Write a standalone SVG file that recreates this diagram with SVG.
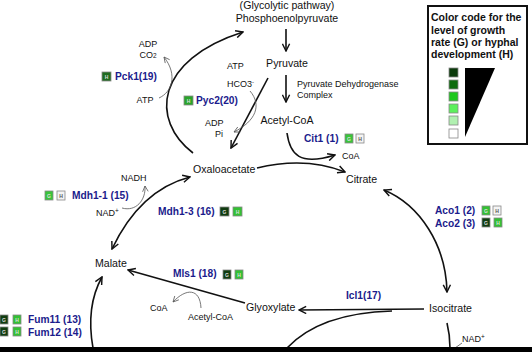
<svg xmlns="http://www.w3.org/2000/svg" width="532" height="352" viewBox="0 0 532 352">
<style>
text{font-family:"Liberation Sans",Arial,sans-serif;fill:#111}
.m{font-size:10.6px}
.s{font-size:9px}
.e{font-size:10.2px;font-weight:bold;fill:#1b1b8c}
.lg{font-size:10.5px;font-weight:bold}
.c{fill:none;stroke:#111;stroke-width:1.6}
.t{fill:none;stroke:#555;stroke-width:0.8}
.sq{stroke:#888;stroke-width:0.8}
.k{font-size:5px;fill:#ddd;font-weight:bold}
.kw{font-size:5px;fill:#555;font-weight:bold}
</style>
<defs>
<marker id="a" viewBox="0 0 10 10" refX="9" refY="5" markerWidth="9" markerHeight="9" markerUnits="userSpaceOnUse" orient="auto-start-reverse"><path d="M1,1 L9,5 L1,9" fill="none" stroke="#111" stroke-width="1.6"/></marker>
<marker id="b" viewBox="0 0 10 10" refX="9" refY="5" markerWidth="7" markerHeight="7" markerUnits="userSpaceOnUse" orient="auto-start-reverse"><path d="M1,1 L9,5 L1,9" fill="none" stroke="#555" stroke-width="1.1"/></marker>
</defs>
<rect width="532" height="352" fill="#fff"/>

<g id="connectors">
<path class="c" d="M286 29 L286 51" marker-end="url(#a)"/>
<path class="c" d="M286 75 L286 102" marker-end="url(#a)"/>
<path class="c" d="M268 78 L231 148" marker-end="url(#a)"/>
<path class="t" d="M250 91 C262 105 256 121 234 132" marker-end="url(#b)"/>
<path class="c" d="M193 153 C150 120 155 60 243 32" marker-end="url(#a)"/>
<path class="t" d="M159 98 C172 92 178 75 164 57" marker-end="url(#b)"/>
<path class="c" d="M257 168 C290 160 320 162 345 172" marker-end="url(#a)"/>
<path class="c" d="M287 133 C290 155 300 166 335 155" marker-end="url(#a)"/>
<path class="c" d="M112 249 Q140 190 190 177" marker-start="url(#a)" marker-end="url(#a)"/>
<path class="t" d="M122 208 C136 212 146 200 145 186" marker-end="url(#b)"/>
<path class="c" d="M384 190 C420 205 446 245 447 292" marker-start="url(#a)" marker-end="url(#a)"/>
<path class="c" d="M424 309 L299 310" marker-end="url(#a)"/>
<path class="c" d="M245 303 L128 270" marker-end="url(#a)"/>
<path class="t" d="M201 308 C200 288 186 288 173 302" marker-end="url(#b)"/>
<path class="c" d="M93 348 C88 320 92 295 102 277" marker-end="url(#a)"/>
<path class="c" d="M287 348 Q320 313 392 311"/>
<path class="c" d="M447 323 Q450 335 450 348"/>
<path class="t" d="M455 348 L462 343"/>
</g>

<g id="glycolytic"><text class="m" x="287" y="9" text-anchor="middle">(Glycolytic pathway)</text></g>
<g id="pep"><text class="m" x="287" y="22" text-anchor="middle">Phosphoenolpyruvate</text></g>
<g id="pyruvate"><text class="m" x="287" y="67" text-anchor="middle">Pyruvate</text></g>
<g id="pdc"><text class="s" x="297" y="87">Pyruvate Dehydrogenase</text><text class="s" x="297" y="98">Complex</text></g>
<g id="acetylcoa"><text class="m" x="287" y="124" text-anchor="middle">Acetyl-CoA</text></g>
<g id="oxaloacetate"><text class="m" x="193" y="173">Oxaloacetate</text></g>
<g id="citrate"><text class="m" x="346" y="183">Citrate</text></g>
<g id="isocitrate"><text class="m" x="429" y="312">Isocitrate</text></g>
<g id="glyoxylate"><text class="m" x="246" y="311">Glyoxylate</text></g>
<g id="malate"><text class="m" x="95" y="267">Malate</text></g>

<g id="cofactors">
<text class="s" x="148" y="47" text-anchor="middle">ADP</text>
<text class="s" x="148" y="58" text-anchor="middle">CO<tspan font-size="6.5">2</tspan></text>
<text class="s" x="145" y="103" text-anchor="middle">ATP</text>
<text class="s" x="227" y="69">ATP</text>
<text class="s" x="227" y="87">HCO3<tspan font-size="6" dy="-3">-</tspan></text>
<text class="s" x="205" y="126">ADP</text>
<text class="s" x="215" y="137">Pi</text>
<text class="s" x="342" y="159">CoA</text>
<text class="s" x="121" y="181">NADH</text>
<text class="s" x="96" y="216">NAD<tspan font-size="6.5" dy="-3">+</tspan></text>
<text class="s" x="150" y="311">CoA</text>
<text class="s" x="188" y="320">Acetyl-CoA</text>
<text class="s" x="462" y="342">NAD<tspan font-size="6.5" dy="-3">+</tspan></text>
</g>

<g id="pck1"><rect class="sq" x="102" y="72" width="9" height="9" fill="#1f6b1f"/><text class="k" x="106.5" y="78.5" text-anchor="middle">H</text><text class="e" x="115" y="80">Pck1(19)</text></g>
<g id="pyc2"><rect class="sq" x="184" y="96" width="9" height="9" fill="#2aa52a"/><text class="k" x="188.5" y="102.5" text-anchor="middle">H</text><text class="e" x="196" y="104">Pyc2(20)</text></g>
<g id="cit1"><text class="e" x="304" y="142">Cit1 (1)</text><rect class="sq" x="345" y="134" width="8" height="9" fill="#3ac43a"/><text class="k" x="349" y="140.5" text-anchor="middle">G</text><rect class="sq" x="356" y="134" width="8" height="9" fill="#f4f4f4"/><text class="kw" x="360" y="140.5" text-anchor="middle">H</text></g>
<g id="mdh11"><rect class="sq" x="45" y="191" width="8" height="9" fill="#3ac43a"/><text class="k" x="49" y="197.5" text-anchor="middle">G</text><rect class="sq" x="57" y="191" width="8" height="9" fill="#f4f4f4"/><text class="kw" x="61" y="197.5" text-anchor="middle">H</text><text class="e" x="72" y="199">Mdh1-1 (15)</text></g>
<g id="mdh13"><text class="e" x="158" y="215">Mdh1-3 (16)</text><rect class="sq" x="220" y="207" width="9" height="9" fill="#103c10"/><text class="k" x="224.5" y="213.5" text-anchor="middle">G</text><rect class="sq" x="233" y="207" width="9" height="9" fill="#33c133"/><text class="k" x="237.5" y="213.5" text-anchor="middle">H</text></g>
<g id="aco"><text class="e" x="435" y="214">Aco1 (2)</text><rect class="sq" x="482" y="206" width="8" height="9" fill="#33c133"/><text class="k" x="486" y="212.5" text-anchor="middle">G</text><rect class="sq" x="493" y="206" width="8" height="9" fill="#f4f4f4"/><text class="kw" x="497" y="212.5" text-anchor="middle">H</text>
<text class="e" x="435" y="227">Aco2 (3)</text><rect class="sq" x="482" y="218" width="8" height="9" fill="#103c10"/><text class="k" x="486" y="224.5" text-anchor="middle">G</text><rect class="sq" x="494" y="218" width="8" height="9" fill="#33c133"/><text class="k" x="498" y="224.5" text-anchor="middle">H</text></g>
<g id="mls1"><text class="e" x="173" y="277">Mls1 (18)</text><rect class="sq" x="223" y="270" width="8" height="9" fill="#103c10"/><text class="k" x="227" y="276.5" text-anchor="middle">G</text><rect class="sq" x="235" y="270" width="8" height="9" fill="#33c133"/><text class="k" x="239" y="276.5" text-anchor="middle">H</text></g>
<g id="icl1"><text class="e" x="346" y="299">Icl1(17)</text></g>
<g id="fum"><rect class="sq" x="0" y="315" width="8" height="9" fill="#103c10"/><text class="k" x="4" y="321.5" text-anchor="middle">G</text><rect class="sq" x="13" y="315" width="8" height="9" fill="#33c133"/><text class="k" x="17" y="321.5" text-anchor="middle">H</text><text class="e" x="28" y="323">Fum11 (13)</text>
<rect class="sq" x="0" y="327" width="8" height="9" fill="#103c10"/><text class="k" x="4" y="333.5" text-anchor="middle">G</text><rect class="sq" x="13" y="327" width="8" height="9" fill="#33c133"/><text class="k" x="17" y="333.5" text-anchor="middle">H</text><text class="e" x="28" y="336">Fum12 (14)</text></g>

<g id="legend">
<rect x="428" y="6" width="99" height="138" fill="#fff" stroke="#111" stroke-width="2"/>
<text class="lg" x="431" y="21">Color code for the</text>
<text class="lg" x="431" y="34">level of growth</text>
<text class="lg" x="431" y="46">rate (G) or hyphal</text>
<text class="lg" x="431" y="58">development (H)</text>
<rect class="sq" x="449" y="68" width="9" height="9" fill="#0b3a0b"/>
<rect class="sq" x="449" y="80" width="9" height="9" fill="#0d6b0d"/>
<rect class="sq" x="449" y="92" width="9" height="9" fill="#1ec81e"/>
<rect class="sq" x="449" y="104" width="9" height="9" fill="#5cf05c"/>
<rect class="sq" x="449" y="116" width="9" height="9" fill="#b0f0b0"/>
<rect class="sq" x="449" y="129" width="9" height="9" fill="#fff"/>
<path d="M465 68 L495 68 L465 137 Z" fill="#000"/>
</g>

<rect x="0" y="347" width="532" height="5" fill="#000"/>
</svg>
